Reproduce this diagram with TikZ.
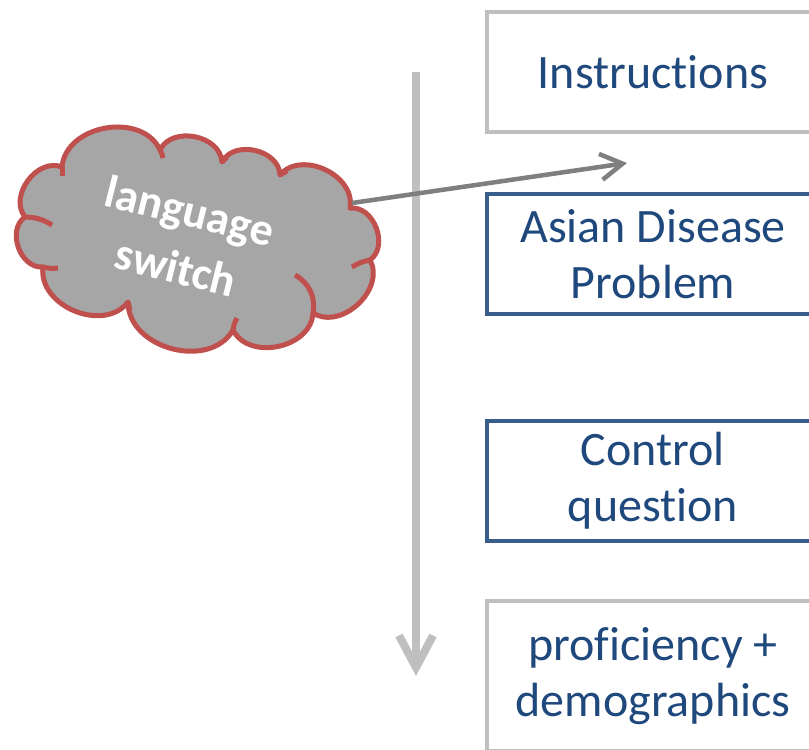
\documentclass[tikz,border=0pt]{standalone}
\usepackage{fontspec}
\setmainfont{Carlito}[Ligatures=NoCommon]
\usetikzlibrary{arrows.meta}
\definecolor{txtblue}{HTML}{1F497D}
\definecolor{boxblue}{HTML}{385D8A}
\definecolor{lgray}{HTML}{BFBFBF}
\definecolor{dgray}{HTML}{7F7F7F}
\definecolor{cloudfill}{HTML}{A6A6A6}
\definecolor{cloudred}{HTML}{C0504D}
\begin{document}
\begin{tikzpicture}[x=1pt,y=-1pt,
 stepbox/.style={rectangle, draw, line width=4.5pt, minimum width=332pt, minimum height=120pt, text=txtblue, font=\fontsize{48}{56}\selectfont, align=center, inner sep=0pt},
 graybox/.style={stepbox, draw=lgray},
 bluebox/.style={stepbox, draw=boxblue},
 cloudline/.style={draw=cloudred, line width=5pt, line join=round},
 puff/.style={bend left=75, looseness=1.1},
]
\clip (0,0) rectangle (809,750);
\fill[white] (0,0) rectangle (809,750);
\node[graybox] (instr) at (653,72) {Instructions};
\node[bluebox] (adp) at (653,254) {Asian Disease\\Problem};
\node[bluebox] (ctrl) at (653,481) {Control\\question};
\node[graybox, minimum height=150pt] (prof) at (653,676) {proficiency +\\demographics};
\coordinate (tstart) at (416,72);
\coordinate (tend) at (416,676);
\draw[lgray, line width=8pt, -{Straight Barb[length=32pt,width=34pt]}] (tstart) -- (tend);
% cloud
\coordinate (J1) at (62,167);
\coordinate (J2) at (160,150);
\coordinate (J3) at (222,162);
\coordinate (J4) at (280,175);
\coordinate (J5) at (350,208);
\coordinate (J6) at (370,260);
\coordinate (J7) at (313,313);
\coordinate (J8) at (233,330);
\coordinate (J9) at (128,302);
\coordinate (J10) at (43,267);
\coordinate (J11) at (25,217);
\path[fill=cloudfill, cloudline] (J1) to[puff] (J2) to[puff] (J3) to[puff] (J4) to[puff] (J5)
  to[puff] (J6) to[puff] (J7) to[puff] (J8) to[puff] (J9) to[puff] (J10)
  to[puff] (J11) to[puff] (J1) -- cycle;
% inner arcs of the cloud
\draw[cloudline] (J1) -- (62,176);
\draw[cloudline] (J2) to[bend left=10] (163,158);
\draw[cloudline] (J3) -- (227,157);
\draw[cloudline] (J4) -- (287,171);
\draw[cloudline] (J6) to[bend right=10] (352,267);
\draw[cloudline] (295,275) to[bend left=35] (J7);
\draw[cloudline] (J8) to[bend left=10] (237,318);
\draw[cloudline] (J9) -- (130,310);
\draw[cloudline] (J10) to[bend right=10] (58,268);
\draw[cloudline] (J11) to[bend left=15] (52,225);
\node[text=white, font=\bfseries\fontsize{46}{58}\selectfont, align=center, rotate=-14] (cltext) at (183,239) {language\\switch};
\coordinate (astart) at (352,203);
\coordinate (atip) at (627,163);
\draw[dgray, line width=4.5pt, -{Straight Barb[length=22pt,width=26pt]}] (astart) -- (atip);
\end{tikzpicture}
\end{document}
